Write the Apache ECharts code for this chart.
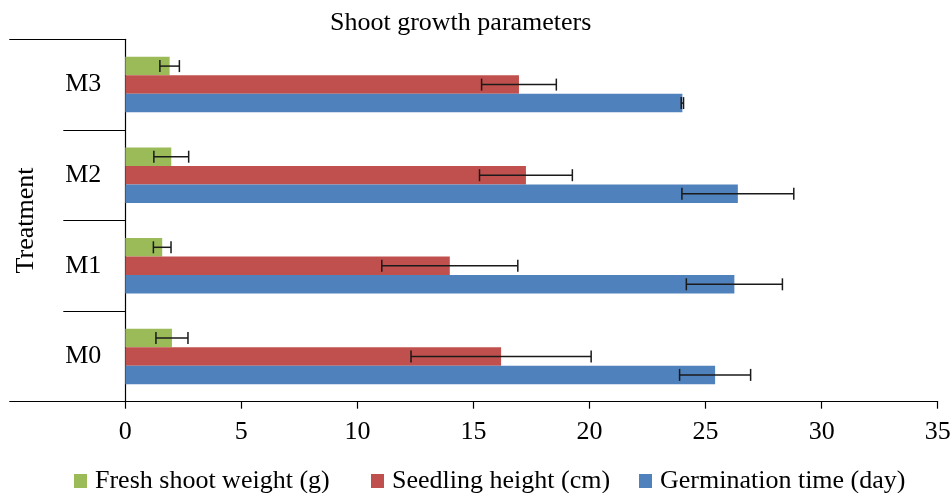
<!DOCTYPE html>
<html>
<head>
<meta charset="utf-8">
<script src="https://cdn.jsdelivr.net/npm/echarts@6/dist/echarts.min.js"></script>
<style>
html,body{margin:0;padding:0;background:#fff;}
#chart{width:952px;height:493px;}
</style>
</head>
<body>
<div id="chart"></div>
<script>
const categories = ['M0', 'M1', 'M2', 'M3'];
const germinationTime = [25.41, 26.24, 26.39, 24.0];
const germinationTimeErr = [1.53, 2.07, 2.41, 0.05];
const seedlingHeight = [16.19, 13.98, 17.26, 16.96];
const seedlingHeightErr = [3.88, 2.93, 2.0, 1.61];
const freshShootWeight = [2.01, 1.59, 1.98, 1.91];
const freshShootWeightErr = [0.69, 0.38, 0.75, 0.42];
const xMin = 0, xMax = 35, xStep = 5;

const FONT = 'Liberation Serif';
const BW = 18.5;      // bar thickness
const CAP = 6;        // half height of error caps

// order: top bar first
const seriesDefs = [
  { name: 'Fresh shoot weight (g)', values: freshShootWeight, errs: freshShootWeightErr, color: '#9BBB59' },
  { name: 'Seedling height (cm)', values: seedlingHeight, errs: seedlingHeightErr, color: '#C0504D' },
  { name: 'Germination time (day)', values: germinationTime, errs: germinationTimeErr, color: '#4F81BD' }
];

function errSeries(def, k) {
  return {
    type: 'custom',
    name: 'err' + k,
    xAxisIndex: 0, yAxisIndex: 0,
    z: 10,
    silent: true,
    encode: { x: [1, 2], y: 0 },
    data: def.values.map((v, i) => [i, v - def.errs[i], v + def.errs[i]]),
    renderItem: function (params, api) {
      const idx = api.value(0);
      const lo = api.coord([api.value(1), idx]);
      const hi = api.coord([api.value(2), idx]);
      const y = lo[1] + (k - 1) * BW;
      const st = { stroke: '#1a1a1a', lineWidth: 1.5 };
      return {
        type: 'group',
        children: [
          { type: 'line', shape: { x1: lo[0], y1: y, x2: hi[0], y2: y }, style: st },
          { type: 'line', shape: { x1: lo[0], y1: y - CAP, x2: lo[0], y2: y + CAP }, style: st },
          { type: 'line', shape: { x1: hi[0], y1: y - CAP, x2: hi[0], y2: y + CAP }, style: st }
        ]
      };
    }
  };
}

const barSeries = seriesDefs.map(d => ({
  type: 'bar',
  name: d.name,
  data: d.values,
  barWidth: BW,
  barGap: '0%',
  itemStyle: { color: d.color },
  yAxisIndex: 0
}));

const legendPos = [
  { name: 'Fresh shoot weight (g)', left: 74 },
  { name: 'Seedling height (cm)', left: 371 },
  { name: 'Germination time (day)', left: 639 }
];

const chart = echarts.init(document.getElementById('chart'), null, { renderer: 'canvas' });
chart.setOption({
  animation: false,
  backgroundColor: '#ffffff',
  title: {
    text: 'Shoot growth parameters',
    left: 325, top: 5,
    textStyle: { fontFamily: FONT, fontSize: 26, fontWeight: 'normal', color: '#000' }
  },
  legend: legendPos.map(l => ({
    data: [l.name],
    left: l.left, top: 468,
    padding: 0,
    icon: 'rect',
    itemWidth: 13, itemHeight: 14,
    selectedMode: false,
    textStyle: { fontFamily: FONT, fontSize: 26, color: '#000', padding: [0, 0, 0, 3] }
  })),
  grid: { left: 125.3, right: 14.3, top: 39.3, bottom: 91.3, containLabel: false, outerBoundsMode: 'none' },
  xAxis: {
    type: 'value',
    min: xMin, max: xMax, interval: xStep,
    axisLine: { show: true, lineStyle: { color: '#000', width: 1.2 } },
    axisTick: { show: true, length: 7, lineStyle: { color: '#000', width: 1.2 } },
    splitLine: { show: false },
    axisLabel: { margin: 17, fontFamily: FONT, fontSize: 26, color: '#000' }
  },
  yAxis: [
    {
      type: 'category',
      data: categories,
      name: 'Treatment',
      nameLocation: 'middle',
      nameRotate: 90,
      nameGap: 86,
      nameTextStyle: { fontFamily: FONT, fontSize: 26, color: '#000' },
      axisLine: { show: true, lineStyle: { color: '#000', width: 1.2 } },
      axisTick: { show: true, length: 62, interval: 0, lineStyle: { color: '#000', width: 1.2 } },
      axisLabel: { margin: 24, fontFamily: FONT, fontSize: 26, color: '#000' },
      splitLine: { show: false }
    },
    {
      type: 'value',
      position: 'left',
      min: 0, max: 1, interval: 1,
      axisLine: { show: false },
      axisTick: { show: true, length: 116, lineStyle: { color: '#000', width: 1.2 } },
      axisLabel: { show: false },
      splitLine: { show: false }
    }
  ],
  series: barSeries.concat(seriesDefs.map((d, k) => errSeries(d, k)))
});
</script>
</body>
</html>
